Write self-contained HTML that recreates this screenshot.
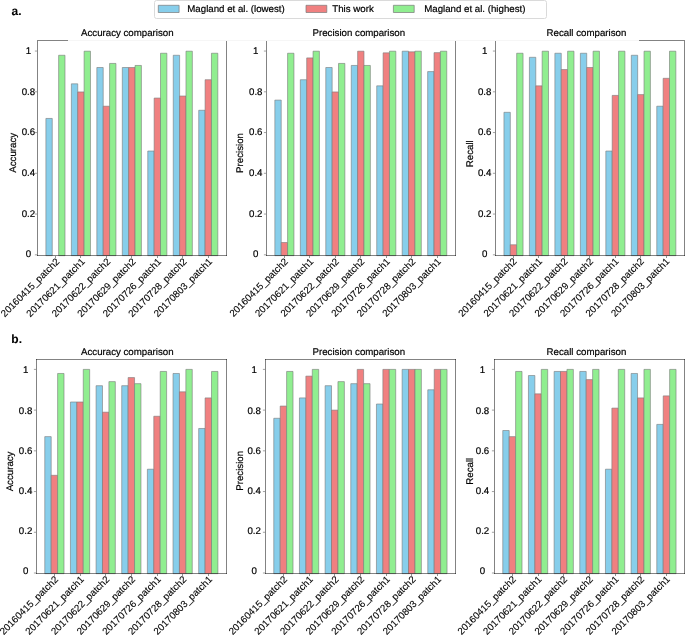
<!DOCTYPE html>
<html>
<head>
<meta charset="utf-8">
<title>Comparison charts</title>
<style>
html, body { margin: 0; padding: 0; background: #ffffff; }
body { width: 685px; height: 635px; overflow: hidden; font-family: "Liberation Sans", sans-serif; }
#fig { width: 685px; height: 635px; will-change: transform; }
svg { display: block; }
text { font-family: "Liberation Sans", sans-serif; stroke: #000; stroke-width: 0.2; text-rendering: geometricPrecision; }
.xl text { stroke-width: 0.12; }
text.pl { stroke-width: 0.05; }
</style>
</head>
<body>
<div id="fig">
<svg width="685" height="635" viewBox="0 0 685 635" font-family="'Liberation Sans', sans-serif" stroke-linejoin="round">
<g>
<rect x="45.9" y="118.44" width="6.37" height="137.21" fill="#87ceeb" stroke="#787878" stroke-width="0.6"/>
<rect x="58.63" y="55.28" width="6.37" height="200.38" fill="#90ee90" stroke="#787878" stroke-width="0.6"/>
<rect x="71.37" y="83.8" width="6.37" height="171.85" fill="#87ceeb" stroke="#787878" stroke-width="0.6"/>
<rect x="77.74" y="91.95" width="6.37" height="163.7" fill="#f08080" stroke="#787878" stroke-width="0.6"/>
<rect x="84.1" y="51.2" width="6.37" height="204.45" fill="#90ee90" stroke="#787878" stroke-width="0.6"/>
<rect x="96.84" y="67.5" width="6.37" height="188.15" fill="#87ceeb" stroke="#787878" stroke-width="0.6"/>
<rect x="103.21" y="106.21" width="6.37" height="149.44" fill="#f08080" stroke="#787878" stroke-width="0.6"/>
<rect x="109.57" y="63.43" width="6.37" height="192.22" fill="#90ee90" stroke="#787878" stroke-width="0.6"/>
<rect x="122.31" y="67.5" width="6.37" height="188.15" fill="#87ceeb" stroke="#787878" stroke-width="0.6"/>
<rect x="128.68" y="67.5" width="6.37" height="188.15" fill="#f08080" stroke="#787878" stroke-width="0.6"/>
<rect x="135.04" y="65.46" width="6.37" height="190.19" fill="#90ee90" stroke="#787878" stroke-width="0.6"/>
<rect x="147.78" y="151.04" width="6.37" height="104.61" fill="#87ceeb" stroke="#787878" stroke-width="0.6"/>
<rect x="154.15" y="98.06" width="6.37" height="157.59" fill="#f08080" stroke="#787878" stroke-width="0.6"/>
<rect x="160.51" y="53.24" width="6.37" height="202.41" fill="#90ee90" stroke="#787878" stroke-width="0.6"/>
<rect x="173.25" y="55.28" width="6.37" height="200.38" fill="#87ceeb" stroke="#787878" stroke-width="0.6"/>
<rect x="179.62" y="96.02" width="6.37" height="159.63" fill="#f08080" stroke="#787878" stroke-width="0.6"/>
<rect x="185.98" y="51.2" width="6.37" height="204.45" fill="#90ee90" stroke="#787878" stroke-width="0.6"/>
<rect x="198.72" y="110.29" width="6.37" height="145.36" fill="#87ceeb" stroke="#787878" stroke-width="0.6"/>
<rect x="205.09" y="79.72" width="6.37" height="175.93" fill="#f08080" stroke="#787878" stroke-width="0.6"/>
<rect x="211.45" y="53.24" width="6.37" height="202.41" fill="#90ee90" stroke="#787878" stroke-width="0.6"/>
<g stroke="#000" stroke-opacity="0.487" stroke-width="1" fill="none" shape-rendering="crispEdges">
<line x1="37.5" y1="40" x2="37.5" y2="256"/>
<line x1="226.5" y1="40" x2="226.5" y2="256"/>
<line x1="37" y1="255.5" x2="227" y2="255.5"/>
</g>
<g stroke="#8a8a8a" stroke-width="0.8">
<line x1="34.9" y1="254.8" x2="37" y2="254.8"/>
<line x1="34.9" y1="214.05" x2="37" y2="214.05"/>
<line x1="34.9" y1="173.3" x2="37" y2="173.3"/>
<line x1="34.9" y1="132.55" x2="37" y2="132.55"/>
<line x1="34.9" y1="91.8" x2="37" y2="91.8"/>
<line x1="34.9" y1="51.05" x2="37" y2="51.05"/>
</g>
<g stroke="#909090" stroke-width="1" shape-rendering="crispEdges">
<line x1="55.45" y1="256" x2="55.45" y2="257.5"/>
<line x1="80.92" y1="256" x2="80.92" y2="257.5"/>
<line x1="106.39" y1="256" x2="106.39" y2="257.5"/>
<line x1="131.86" y1="256" x2="131.86" y2="257.5"/>
<line x1="157.33" y1="256" x2="157.33" y2="257.5"/>
<line x1="182.8" y1="256" x2="182.8" y2="257.5"/>
<line x1="208.27" y1="256" x2="208.27" y2="257.5"/>
</g>
<g font-size="9.7" text-anchor="middle" fill="#000">
<text x="28.45" y="257.3">0</text>
<text x="28.45" y="216.68">0.2</text>
<text x="28.45" y="176.06">0.4</text>
<text x="28.45" y="135.44">0.6</text>
<text x="28.45" y="94.82">0.8</text>
<text x="28.45" y="54.2">1</text>
</g>
<g font-size="9.75" text-anchor="end" fill="#000" class="xl">
<text transform="translate(60.05,262.2) rotate(-45)">20160415_patch2</text>
<text transform="translate(85.52,262.2) rotate(-45)">20170621_patch1</text>
<text transform="translate(110.99,262.2) rotate(-45)">20170622_patch2</text>
<text transform="translate(136.46,262.2) rotate(-45)">20170629_patch2</text>
<text transform="translate(161.93,262.2) rotate(-45)">20170726_patch1</text>
<text transform="translate(187.4,262.2) rotate(-45)">20170728_patch2</text>
<text transform="translate(212.87,262.2) rotate(-45)">20170803_patch1</text>
</g>
<text x="81" y="35.9" font-size="9.7" fill="#000">Accuracy comparison</text>
<text transform="translate(16.3,152.8) rotate(-90)" font-size="9.7" text-anchor="middle" fill="#000">Accuracy</text>
</g>
<g>
<rect x="274.85" y="100.1" width="6.37" height="155.55" fill="#87ceeb" stroke="#787878" stroke-width="0.6"/>
<rect x="281.22" y="242.52" width="6.37" height="13.13" fill="#f08080" stroke="#787878" stroke-width="0.6"/>
<rect x="287.58" y="53.24" width="6.37" height="202.41" fill="#90ee90" stroke="#787878" stroke-width="0.6"/>
<rect x="300.32" y="79.72" width="6.37" height="175.93" fill="#87ceeb" stroke="#787878" stroke-width="0.6"/>
<rect x="306.69" y="57.92" width="6.37" height="197.73" fill="#f08080" stroke="#787878" stroke-width="0.6"/>
<rect x="313.05" y="51.2" width="6.37" height="204.45" fill="#90ee90" stroke="#787878" stroke-width="0.6"/>
<rect x="325.79" y="67.5" width="6.37" height="188.15" fill="#87ceeb" stroke="#787878" stroke-width="0.6"/>
<rect x="332.16" y="91.95" width="6.37" height="163.7" fill="#f08080" stroke="#787878" stroke-width="0.6"/>
<rect x="338.52" y="63.43" width="6.37" height="192.22" fill="#90ee90" stroke="#787878" stroke-width="0.6"/>
<rect x="351.26" y="65.46" width="6.37" height="190.19" fill="#87ceeb" stroke="#787878" stroke-width="0.6"/>
<rect x="357.63" y="51.2" width="6.37" height="204.45" fill="#f08080" stroke="#787878" stroke-width="0.6"/>
<rect x="363.99" y="65.46" width="6.37" height="190.19" fill="#90ee90" stroke="#787878" stroke-width="0.6"/>
<rect x="376.73" y="85.84" width="6.37" height="169.81" fill="#87ceeb" stroke="#787878" stroke-width="0.6"/>
<rect x="383.1" y="52.83" width="6.37" height="202.82" fill="#f08080" stroke="#787878" stroke-width="0.6"/>
<rect x="389.46" y="51.2" width="6.37" height="204.45" fill="#90ee90" stroke="#787878" stroke-width="0.6"/>
<rect x="402.2" y="51.2" width="6.37" height="204.45" fill="#87ceeb" stroke="#787878" stroke-width="0.6"/>
<rect x="408.57" y="51.81" width="6.37" height="203.84" fill="#f08080" stroke="#787878" stroke-width="0.6"/>
<rect x="414.93" y="51.2" width="6.37" height="204.45" fill="#90ee90" stroke="#787878" stroke-width="0.6"/>
<rect x="427.67" y="71.57" width="6.37" height="184.08" fill="#87ceeb" stroke="#787878" stroke-width="0.6"/>
<rect x="434.04" y="52.63" width="6.37" height="203.02" fill="#f08080" stroke="#787878" stroke-width="0.6"/>
<rect x="440.4" y="51.2" width="6.37" height="204.45" fill="#90ee90" stroke="#787878" stroke-width="0.6"/>
<g stroke="#000" stroke-opacity="0.487" stroke-width="1" fill="none" shape-rendering="crispEdges">
<line x1="266.5" y1="40" x2="266.5" y2="256"/>
<line x1="455.5" y1="40" x2="455.5" y2="256"/>
<line x1="266" y1="255.5" x2="456" y2="255.5"/>
</g>
<g stroke="#8a8a8a" stroke-width="0.8">
<line x1="263.9" y1="254.8" x2="266" y2="254.8"/>
<line x1="263.9" y1="214.05" x2="266" y2="214.05"/>
<line x1="263.9" y1="173.3" x2="266" y2="173.3"/>
<line x1="263.9" y1="132.55" x2="266" y2="132.55"/>
<line x1="263.9" y1="91.8" x2="266" y2="91.8"/>
<line x1="263.9" y1="51.05" x2="266" y2="51.05"/>
</g>
<g stroke="#909090" stroke-width="1" shape-rendering="crispEdges">
<line x1="284.4" y1="256" x2="284.4" y2="257.5"/>
<line x1="309.87" y1="256" x2="309.87" y2="257.5"/>
<line x1="335.34" y1="256" x2="335.34" y2="257.5"/>
<line x1="360.81" y1="256" x2="360.81" y2="257.5"/>
<line x1="386.28" y1="256" x2="386.28" y2="257.5"/>
<line x1="411.75" y1="256" x2="411.75" y2="257.5"/>
<line x1="437.22" y1="256" x2="437.22" y2="257.5"/>
</g>
<g font-size="9.7" text-anchor="middle" fill="#000">
<text x="255.75" y="257.3">0</text>
<text x="255.75" y="216.68">0.2</text>
<text x="255.75" y="176.06">0.4</text>
<text x="255.75" y="135.44">0.6</text>
<text x="255.75" y="94.82">0.8</text>
<text x="255.75" y="54.2">1</text>
</g>
<g font-size="9.75" text-anchor="end" fill="#000" class="xl">
<text transform="translate(288.7,262.1) rotate(-45)">20160415_patch2</text>
<text transform="translate(314.17,262.1) rotate(-45)">20170621_patch1</text>
<text transform="translate(339.64,262.1) rotate(-45)">20170622_patch2</text>
<text transform="translate(365.11,262.1) rotate(-45)">20170629_patch2</text>
<text transform="translate(390.58,262.1) rotate(-45)">20170726_patch1</text>
<text transform="translate(416.05,262.1) rotate(-45)">20170728_patch2</text>
<text transform="translate(441.52,262.1) rotate(-45)">20170803_patch1</text>
</g>
<text x="312.5" y="35.9" font-size="9.7" fill="#000">Precision comparison</text>
<text transform="translate(243.4,153) rotate(-90)" font-size="9.7" text-anchor="middle" fill="#000">Precision</text>
</g>
<g>
<rect x="503.95" y="112.32" width="6.37" height="143.33" fill="#87ceeb" stroke="#787878" stroke-width="0.6"/>
<rect x="510.32" y="244.76" width="6.37" height="10.89" fill="#f08080" stroke="#787878" stroke-width="0.6"/>
<rect x="516.68" y="53.24" width="6.37" height="202.41" fill="#90ee90" stroke="#787878" stroke-width="0.6"/>
<rect x="529.42" y="57.31" width="6.37" height="198.34" fill="#87ceeb" stroke="#787878" stroke-width="0.6"/>
<rect x="535.79" y="85.84" width="6.37" height="169.81" fill="#f08080" stroke="#787878" stroke-width="0.6"/>
<rect x="542.15" y="51.2" width="6.37" height="204.45" fill="#90ee90" stroke="#787878" stroke-width="0.6"/>
<rect x="554.89" y="53.24" width="6.37" height="202.41" fill="#87ceeb" stroke="#787878" stroke-width="0.6"/>
<rect x="561.26" y="69.54" width="6.37" height="186.11" fill="#f08080" stroke="#787878" stroke-width="0.6"/>
<rect x="567.62" y="51.2" width="6.37" height="204.45" fill="#90ee90" stroke="#787878" stroke-width="0.6"/>
<rect x="580.36" y="53.24" width="6.37" height="202.41" fill="#87ceeb" stroke="#787878" stroke-width="0.6"/>
<rect x="586.73" y="67.5" width="6.37" height="188.15" fill="#f08080" stroke="#787878" stroke-width="0.6"/>
<rect x="593.09" y="51.2" width="6.37" height="204.45" fill="#90ee90" stroke="#787878" stroke-width="0.6"/>
<rect x="605.83" y="151.04" width="6.37" height="104.61" fill="#87ceeb" stroke="#787878" stroke-width="0.6"/>
<rect x="612.2" y="95.41" width="6.37" height="160.24" fill="#f08080" stroke="#787878" stroke-width="0.6"/>
<rect x="618.56" y="51.2" width="6.37" height="204.45" fill="#90ee90" stroke="#787878" stroke-width="0.6"/>
<rect x="631.3" y="55.28" width="6.37" height="200.38" fill="#87ceeb" stroke="#787878" stroke-width="0.6"/>
<rect x="637.67" y="94.6" width="6.37" height="161.05" fill="#f08080" stroke="#787878" stroke-width="0.6"/>
<rect x="644.03" y="51.2" width="6.37" height="204.45" fill="#90ee90" stroke="#787878" stroke-width="0.6"/>
<rect x="656.77" y="106.21" width="6.37" height="149.44" fill="#87ceeb" stroke="#787878" stroke-width="0.6"/>
<rect x="663.14" y="78.3" width="6.37" height="177.35" fill="#f08080" stroke="#787878" stroke-width="0.6"/>
<rect x="669.5" y="51.2" width="6.37" height="204.45" fill="#90ee90" stroke="#787878" stroke-width="0.6"/>
<g stroke="#000" stroke-opacity="0.487" stroke-width="1" fill="none" shape-rendering="crispEdges">
<line x1="495.5" y1="40" x2="495.5" y2="256"/>
<line x1="684.5" y1="40" x2="684.5" y2="256"/>
<line x1="495" y1="255.5" x2="685" y2="255.5"/>
</g>
<g stroke="#8a8a8a" stroke-width="0.8">
<line x1="492.9" y1="254.8" x2="495" y2="254.8"/>
<line x1="492.9" y1="214.05" x2="495" y2="214.05"/>
<line x1="492.9" y1="173.3" x2="495" y2="173.3"/>
<line x1="492.9" y1="132.55" x2="495" y2="132.55"/>
<line x1="492.9" y1="91.8" x2="495" y2="91.8"/>
<line x1="492.9" y1="51.05" x2="495" y2="51.05"/>
</g>
<g stroke="#909090" stroke-width="1" shape-rendering="crispEdges">
<line x1="513.5" y1="256" x2="513.5" y2="257.5"/>
<line x1="538.97" y1="256" x2="538.97" y2="257.5"/>
<line x1="564.44" y1="256" x2="564.44" y2="257.5"/>
<line x1="589.91" y1="256" x2="589.91" y2="257.5"/>
<line x1="615.38" y1="256" x2="615.38" y2="257.5"/>
<line x1="640.85" y1="256" x2="640.85" y2="257.5"/>
<line x1="666.32" y1="256" x2="666.32" y2="257.5"/>
</g>
<g font-size="9.7" text-anchor="middle" fill="#000">
<text x="484.7" y="257.3">0</text>
<text x="484.7" y="216.68">0.2</text>
<text x="484.7" y="176.06">0.4</text>
<text x="484.7" y="135.44">0.6</text>
<text x="484.7" y="94.82">0.8</text>
<text x="484.7" y="54.2">1</text>
</g>
<g font-size="9.75" text-anchor="end" fill="#000" class="xl">
<text transform="translate(517.35,262) rotate(-45)">20160415_patch2</text>
<text transform="translate(542.82,262) rotate(-45)">20170621_patch1</text>
<text transform="translate(568.29,262) rotate(-45)">20170622_patch2</text>
<text transform="translate(593.76,262) rotate(-45)">20170629_patch2</text>
<text transform="translate(619.23,262) rotate(-45)">20170726_patch1</text>
<text transform="translate(644.7,262) rotate(-45)">20170728_patch2</text>
<text transform="translate(670.17,262) rotate(-45)">20170803_patch1</text>
</g>
<text x="546.6" y="35.9" font-size="9.7" fill="#000">Recall comparison</text>
<text transform="translate(473.3,153.7) rotate(-90)" font-size="9.7" text-anchor="middle" fill="#000">Recall</text>
</g>
<g>
<rect x="44.78" y="436.62" width="6.41" height="137.03" fill="#87ceeb" stroke="#787878" stroke-width="0.6"/>
<rect x="51.19" y="475.32" width="6.41" height="98.33" fill="#f08080" stroke="#787878" stroke-width="0.6"/>
<rect x="57.61" y="373.47" width="6.41" height="200.18" fill="#90ee90" stroke="#787878" stroke-width="0.6"/>
<rect x="70.43" y="401.99" width="6.41" height="171.66" fill="#87ceeb" stroke="#787878" stroke-width="0.6"/>
<rect x="76.84" y="401.99" width="6.41" height="171.66" fill="#f08080" stroke="#787878" stroke-width="0.6"/>
<rect x="83.26" y="369.4" width="6.41" height="204.25" fill="#90ee90" stroke="#787878" stroke-width="0.6"/>
<rect x="96.08" y="385.7" width="6.41" height="187.95" fill="#87ceeb" stroke="#787878" stroke-width="0.6"/>
<rect x="102.49" y="412.18" width="6.41" height="161.47" fill="#f08080" stroke="#787878" stroke-width="0.6"/>
<rect x="108.91" y="381.62" width="6.41" height="192.03" fill="#90ee90" stroke="#787878" stroke-width="0.6"/>
<rect x="121.73" y="385.7" width="6.41" height="187.95" fill="#87ceeb" stroke="#787878" stroke-width="0.6"/>
<rect x="128.14" y="377.55" width="6.41" height="196.1" fill="#f08080" stroke="#787878" stroke-width="0.6"/>
<rect x="134.56" y="383.66" width="6.41" height="189.99" fill="#90ee90" stroke="#787878" stroke-width="0.6"/>
<rect x="147.38" y="469.21" width="6.41" height="104.44" fill="#87ceeb" stroke="#787878" stroke-width="0.6"/>
<rect x="153.79" y="416.25" width="6.41" height="157.4" fill="#f08080" stroke="#787878" stroke-width="0.6"/>
<rect x="160.21" y="371.44" width="6.41" height="202.21" fill="#90ee90" stroke="#787878" stroke-width="0.6"/>
<rect x="173.03" y="373.47" width="6.41" height="200.18" fill="#87ceeb" stroke="#787878" stroke-width="0.6"/>
<rect x="179.44" y="391.81" width="6.41" height="181.84" fill="#f08080" stroke="#787878" stroke-width="0.6"/>
<rect x="185.86" y="369.4" width="6.41" height="204.25" fill="#90ee90" stroke="#787878" stroke-width="0.6"/>
<rect x="198.68" y="428.47" width="6.41" height="145.18" fill="#87ceeb" stroke="#787878" stroke-width="0.6"/>
<rect x="205.09" y="397.92" width="6.41" height="175.73" fill="#f08080" stroke="#787878" stroke-width="0.6"/>
<rect x="211.51" y="371.44" width="6.41" height="202.21" fill="#90ee90" stroke="#787878" stroke-width="0.6"/>
<g stroke="#000" stroke-opacity="0.487" stroke-width="1" fill="none" shape-rendering="crispEdges">
<line x1="36.5" y1="359" x2="36.5" y2="574"/>
<line x1="226.5" y1="359" x2="226.5" y2="574"/>
<line x1="36" y1="573.5" x2="227" y2="573.5"/>
<line x1="36" y1="359.5" x2="227" y2="359.5"/>
</g>
<g stroke="#8a8a8a" stroke-width="0.8">
<line x1="33.9" y1="573" x2="36" y2="573"/>
<line x1="33.9" y1="532.28" x2="36" y2="532.28"/>
<line x1="33.9" y1="491.56" x2="36" y2="491.56"/>
<line x1="33.9" y1="450.84" x2="36" y2="450.84"/>
<line x1="33.9" y1="410.12" x2="36" y2="410.12"/>
<line x1="33.9" y1="369.4" x2="36" y2="369.4"/>
</g>
<g stroke="#909090" stroke-width="1" shape-rendering="crispEdges">
<line x1="54.4" y1="574" x2="54.4" y2="575.5"/>
<line x1="80.05" y1="574" x2="80.05" y2="575.5"/>
<line x1="105.7" y1="574" x2="105.7" y2="575.5"/>
<line x1="131.35" y1="574" x2="131.35" y2="575.5"/>
<line x1="157" y1="574" x2="157" y2="575.5"/>
<line x1="182.65" y1="574" x2="182.65" y2="575.5"/>
<line x1="208.3" y1="574" x2="208.3" y2="575.5"/>
</g>
<g font-size="9.7" text-anchor="middle" fill="#000">
<text x="25.6" y="574.2">0</text>
<text x="25.6" y="534.04">0.2</text>
<text x="25.6" y="493.88">0.4</text>
<text x="25.6" y="453.72">0.6</text>
<text x="25.6" y="413.56">0.8</text>
<text x="25.6" y="373.4">1</text>
</g>
<g font-size="9.75" text-anchor="end" fill="#000" class="xl">
<text transform="translate(58.9,580) rotate(-45)">20160415_patch2</text>
<text transform="translate(84.55,580) rotate(-45)">20170621_patch1</text>
<text transform="translate(110.2,580) rotate(-45)">20170622_patch2</text>
<text transform="translate(135.85,580) rotate(-45)">20170629_patch2</text>
<text transform="translate(161.5,580) rotate(-45)">20170726_patch1</text>
<text transform="translate(187.15,580) rotate(-45)">20170728_patch2</text>
<text transform="translate(212.8,580) rotate(-45)">20170803_patch1</text>
</g>
<text x="81" y="355" font-size="9.7" fill="#000">Accuracy comparison</text>
<text transform="translate(13.4,471.45) rotate(-90)" font-size="9.7" text-anchor="middle" fill="#000">Accuracy</text>
</g>
<g>
<rect x="273.77" y="418.29" width="6.42" height="155.36" fill="#87ceeb" stroke="#787878" stroke-width="0.6"/>
<rect x="280.19" y="406.07" width="6.42" height="167.58" fill="#f08080" stroke="#787878" stroke-width="0.6"/>
<rect x="286.61" y="371.44" width="6.42" height="202.21" fill="#90ee90" stroke="#787878" stroke-width="0.6"/>
<rect x="299.44" y="397.92" width="6.42" height="175.73" fill="#87ceeb" stroke="#787878" stroke-width="0.6"/>
<rect x="305.86" y="376.12" width="6.42" height="197.53" fill="#f08080" stroke="#787878" stroke-width="0.6"/>
<rect x="312.28" y="369.4" width="6.42" height="204.25" fill="#90ee90" stroke="#787878" stroke-width="0.6"/>
<rect x="325.11" y="385.7" width="6.42" height="187.95" fill="#87ceeb" stroke="#787878" stroke-width="0.6"/>
<rect x="331.53" y="410.14" width="6.42" height="163.51" fill="#f08080" stroke="#787878" stroke-width="0.6"/>
<rect x="337.95" y="381.62" width="6.42" height="192.03" fill="#90ee90" stroke="#787878" stroke-width="0.6"/>
<rect x="350.78" y="383.66" width="6.42" height="189.99" fill="#87ceeb" stroke="#787878" stroke-width="0.6"/>
<rect x="357.2" y="369.4" width="6.42" height="204.25" fill="#f08080" stroke="#787878" stroke-width="0.6"/>
<rect x="363.62" y="383.66" width="6.42" height="189.99" fill="#90ee90" stroke="#787878" stroke-width="0.6"/>
<rect x="376.45" y="404.03" width="6.42" height="169.62" fill="#87ceeb" stroke="#787878" stroke-width="0.6"/>
<rect x="382.87" y="369.4" width="6.42" height="204.25" fill="#f08080" stroke="#787878" stroke-width="0.6"/>
<rect x="389.29" y="369.4" width="6.42" height="204.25" fill="#90ee90" stroke="#787878" stroke-width="0.6"/>
<rect x="402.12" y="369.4" width="6.42" height="204.25" fill="#87ceeb" stroke="#787878" stroke-width="0.6"/>
<rect x="408.54" y="369.4" width="6.42" height="204.25" fill="#f08080" stroke="#787878" stroke-width="0.6"/>
<rect x="414.96" y="369.4" width="6.42" height="204.25" fill="#90ee90" stroke="#787878" stroke-width="0.6"/>
<rect x="427.79" y="389.77" width="6.42" height="183.88" fill="#87ceeb" stroke="#787878" stroke-width="0.6"/>
<rect x="434.21" y="369.4" width="6.42" height="204.25" fill="#f08080" stroke="#787878" stroke-width="0.6"/>
<rect x="440.63" y="369.4" width="6.42" height="204.25" fill="#90ee90" stroke="#787878" stroke-width="0.6"/>
<g stroke="#000" stroke-opacity="0.487" stroke-width="1" fill="none" shape-rendering="crispEdges">
<line x1="265.5" y1="359" x2="265.5" y2="574"/>
<line x1="455.5" y1="359" x2="455.5" y2="574"/>
<line x1="265" y1="573.5" x2="456" y2="573.5"/>
<line x1="265" y1="359.5" x2="456" y2="359.5"/>
</g>
<g stroke="#8a8a8a" stroke-width="0.8">
<line x1="262.9" y1="573" x2="265" y2="573"/>
<line x1="262.9" y1="532.28" x2="265" y2="532.28"/>
<line x1="262.9" y1="491.56" x2="265" y2="491.56"/>
<line x1="262.9" y1="450.84" x2="265" y2="450.84"/>
<line x1="262.9" y1="410.12" x2="265" y2="410.12"/>
<line x1="262.9" y1="369.4" x2="265" y2="369.4"/>
</g>
<g stroke="#909090" stroke-width="1" shape-rendering="crispEdges">
<line x1="283.4" y1="574" x2="283.4" y2="575.5"/>
<line x1="309.07" y1="574" x2="309.07" y2="575.5"/>
<line x1="334.74" y1="574" x2="334.74" y2="575.5"/>
<line x1="360.41" y1="574" x2="360.41" y2="575.5"/>
<line x1="386.08" y1="574" x2="386.08" y2="575.5"/>
<line x1="411.75" y1="574" x2="411.75" y2="575.5"/>
<line x1="437.42" y1="574" x2="437.42" y2="575.5"/>
</g>
<g font-size="9.7" text-anchor="middle" fill="#000">
<text x="254.2" y="574.2">0</text>
<text x="254.2" y="534.04">0.2</text>
<text x="254.2" y="493.88">0.4</text>
<text x="254.2" y="453.72">0.6</text>
<text x="254.2" y="413.56">0.8</text>
<text x="254.2" y="373.4">1</text>
</g>
<g font-size="9.75" text-anchor="end" fill="#000" class="xl">
<text transform="translate(287.9,580) rotate(-45)">20160415_patch2</text>
<text transform="translate(313.57,580) rotate(-45)">20170621_patch1</text>
<text transform="translate(339.24,580) rotate(-45)">20170622_patch2</text>
<text transform="translate(364.91,580) rotate(-45)">20170629_patch2</text>
<text transform="translate(390.58,580) rotate(-45)">20170726_patch1</text>
<text transform="translate(416.25,580) rotate(-45)">20170728_patch2</text>
<text transform="translate(441.92,580) rotate(-45)">20170803_patch1</text>
</g>
<text x="312.5" y="355" font-size="9.7" fill="#000">Precision comparison</text>
<text transform="translate(243.4,470.85) rotate(-90)" font-size="9.7" text-anchor="middle" fill="#000">Precision</text>
</g>
<g>
<rect x="502.77" y="430.51" width="6.42" height="143.14" fill="#87ceeb" stroke="#787878" stroke-width="0.6"/>
<rect x="509.19" y="436.62" width="6.42" height="137.03" fill="#f08080" stroke="#787878" stroke-width="0.6"/>
<rect x="515.61" y="371.44" width="6.42" height="202.21" fill="#90ee90" stroke="#787878" stroke-width="0.6"/>
<rect x="528.44" y="375.51" width="6.42" height="198.14" fill="#87ceeb" stroke="#787878" stroke-width="0.6"/>
<rect x="534.86" y="393.84" width="6.42" height="179.81" fill="#f08080" stroke="#787878" stroke-width="0.6"/>
<rect x="541.28" y="369.4" width="6.42" height="204.25" fill="#90ee90" stroke="#787878" stroke-width="0.6"/>
<rect x="554.11" y="371.44" width="6.42" height="202.21" fill="#87ceeb" stroke="#787878" stroke-width="0.6"/>
<rect x="560.53" y="371.44" width="6.42" height="202.21" fill="#f08080" stroke="#787878" stroke-width="0.6"/>
<rect x="566.95" y="369.4" width="6.42" height="204.25" fill="#90ee90" stroke="#787878" stroke-width="0.6"/>
<rect x="579.78" y="371.44" width="6.42" height="202.21" fill="#87ceeb" stroke="#787878" stroke-width="0.6"/>
<rect x="586.2" y="379.59" width="6.42" height="194.06" fill="#f08080" stroke="#787878" stroke-width="0.6"/>
<rect x="592.62" y="369.4" width="6.42" height="204.25" fill="#90ee90" stroke="#787878" stroke-width="0.6"/>
<rect x="605.45" y="469.21" width="6.42" height="104.44" fill="#87ceeb" stroke="#787878" stroke-width="0.6"/>
<rect x="611.87" y="408.1" width="6.42" height="165.55" fill="#f08080" stroke="#787878" stroke-width="0.6"/>
<rect x="618.29" y="369.4" width="6.42" height="204.25" fill="#90ee90" stroke="#787878" stroke-width="0.6"/>
<rect x="631.12" y="373.47" width="6.42" height="200.18" fill="#87ceeb" stroke="#787878" stroke-width="0.6"/>
<rect x="637.54" y="397.92" width="6.42" height="175.73" fill="#f08080" stroke="#787878" stroke-width="0.6"/>
<rect x="643.96" y="369.4" width="6.42" height="204.25" fill="#90ee90" stroke="#787878" stroke-width="0.6"/>
<rect x="656.79" y="424.4" width="6.42" height="149.25" fill="#87ceeb" stroke="#787878" stroke-width="0.6"/>
<rect x="663.21" y="395.88" width="6.42" height="177.77" fill="#f08080" stroke="#787878" stroke-width="0.6"/>
<rect x="669.63" y="369.4" width="6.42" height="204.25" fill="#90ee90" stroke="#787878" stroke-width="0.6"/>
<g stroke="#000" stroke-opacity="0.487" stroke-width="1" fill="none" shape-rendering="crispEdges">
<line x1="494.5" y1="359" x2="494.5" y2="574"/>
<line x1="684.5" y1="359" x2="684.5" y2="574"/>
<line x1="494" y1="573.5" x2="685" y2="573.5"/>
<line x1="494" y1="359.5" x2="685" y2="359.5"/>
</g>
<g stroke="#8a8a8a" stroke-width="0.8">
<line x1="491.9" y1="573" x2="494" y2="573"/>
<line x1="491.9" y1="532.28" x2="494" y2="532.28"/>
<line x1="491.9" y1="491.56" x2="494" y2="491.56"/>
<line x1="491.9" y1="450.84" x2="494" y2="450.84"/>
<line x1="491.9" y1="410.12" x2="494" y2="410.12"/>
<line x1="491.9" y1="369.4" x2="494" y2="369.4"/>
</g>
<g stroke="#909090" stroke-width="1" shape-rendering="crispEdges">
<line x1="512.4" y1="574" x2="512.4" y2="575.5"/>
<line x1="538.07" y1="574" x2="538.07" y2="575.5"/>
<line x1="563.74" y1="574" x2="563.74" y2="575.5"/>
<line x1="589.41" y1="574" x2="589.41" y2="575.5"/>
<line x1="615.08" y1="574" x2="615.08" y2="575.5"/>
<line x1="640.75" y1="574" x2="640.75" y2="575.5"/>
<line x1="666.42" y1="574" x2="666.42" y2="575.5"/>
</g>
<g font-size="9.7" text-anchor="middle" fill="#000">
<text x="482.5" y="574.2">0</text>
<text x="482.5" y="534.04">0.2</text>
<text x="482.5" y="493.88">0.4</text>
<text x="482.5" y="453.72">0.6</text>
<text x="482.5" y="413.56">0.8</text>
<text x="482.5" y="373.4">1</text>
</g>
<g font-size="9.75" text-anchor="end" fill="#000" class="xl">
<text transform="translate(516.6,579.95) rotate(-45)">20160415_patch2</text>
<text transform="translate(542.27,579.95) rotate(-45)">20170621_patch1</text>
<text transform="translate(567.94,579.95) rotate(-45)">20170622_patch2</text>
<text transform="translate(593.61,579.95) rotate(-45)">20170629_patch2</text>
<text transform="translate(619.28,579.95) rotate(-45)">20170726_patch1</text>
<text transform="translate(644.95,579.95) rotate(-45)">20170728_patch2</text>
<text transform="translate(670.62,579.95) rotate(-45)">20170803_patch1</text>
</g>
<text x="546.6" y="355" font-size="9.7" fill="#000">Recall comparison</text>
<text transform="translate(473.4,471.25) rotate(-90)" font-size="9.7" text-anchor="middle" fill="#000">Recall</text>
</g>
<g stroke="#838383" stroke-width="1" shape-rendering="crispEdges">
<line x1="37" y1="40.5" x2="67.5" y2="40.5"/>
<line x1="639" y1="40.5" x2="685" y2="40.5"/>
</g>
<line x1="67.5" y1="40.5" x2="639" y2="40.5" stroke="#f6f6f6" stroke-width="1" shape-rendering="crispEdges"/>
<text x="11.5" y="15.4" font-size="12" font-weight="bold" fill="#000" class="pl">a.</text>
<text x="11.3" y="342.9" font-size="12" font-weight="bold" fill="#000" class="pl">b.</text>
<rect x="154.5" y="0.5" width="392" height="18" rx="2" ry="2" fill="#fff" stroke="#dadada" stroke-width="1"/>
<rect x="158.3" y="5.3" width="20.8" height="7.2" fill="#87ceeb" stroke="#787878" stroke-width="0.7"/>
<text x="187.3" y="12.0" font-size="9.7" fill="#000">Magland et al. (lowest)</text>
<rect x="306" y="5.3" width="20.8" height="7.2" fill="#f08080" stroke="#787878" stroke-width="0.7"/>
<text x="332.3" y="12.0" font-size="9.7" fill="#000">This work</text>
<rect x="393.4" y="5.3" width="20.8" height="7.2" fill="#90ee90" stroke="#787878" stroke-width="0.7"/>
<text x="424.2" y="12.0" font-size="9.7" fill="#000">Magland et al. (highest)</text>
</svg>
</div>
</body>
</html>
